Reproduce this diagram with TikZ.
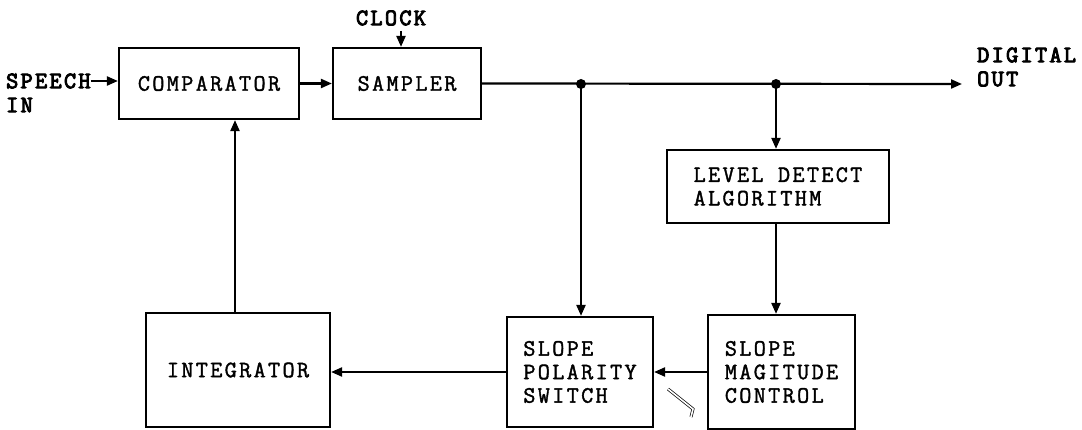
\documentclass[tikz,border=0pt]{standalone}
\usepackage{fontspec}
\newfontfamily\boxfont[FakeBold=1.6, LetterSpace=10]{Latin Modern Mono}
\newfontfamily\labfont[FakeBold=4, LetterSpace=10]{Latin Modern Mono}
\usetikzlibrary{arrows.meta}
\begin{document}
\begin{tikzpicture}[x=1pt,y=-1pt,
  blk/.style={draw, line width=2.2pt, inner sep=0pt, font=\boxfont\fontsize{23.5}{23.5}\selectfont, align=left},
  lbl/.style={font=\labfont\fontsize{23.5}{23}\selectfont, inner sep=0pt},
  wire/.style={line width=2.2pt},
  arr/.style={wire, -{Triangle[length=11pt,width=9pt]}},
  jdot/.style={circle, fill, inner sep=0pt, minimum size=10pt}]
\useasboundingbox (0,0) rectangle (1082,430);
% blocks
\node[blk, minimum width=180pt, minimum height=71pt] (comp) at (209,83.5) {COMPARATOR};
\node[blk, minimum width=148pt, minimum height=71pt] (samp) at (407,83.5) {SAMPLER};
\node[blk, minimum width=222pt, minimum height=73pt] (level) at (778,186.5) {LEVEL DETECT\\ALGORITHM};
\node[blk, minimum width=184pt, minimum height=114pt] (integ) at (238,370) {INTEGRATOR};
\node[blk, minimum width=146pt, minimum height=110pt] (pol) at (580,372) {SLOPE\\POLARITY\\SWITCH};
\node[blk, minimum width=147pt, minimum height=114pt] (mag) at (781.5,372) {SLOPE\\MAGITUDE\\CONTROL};
% labels
\node[lbl, anchor=west] (sp) at (6,81) {SPEECH};
\node[lbl, anchor=west] (spin) at (6,105) {IN};
\node[lbl] (clk) at (391,18) {CLOCK};
\node[lbl, anchor=west] (dig) at (977,55) {DIGITAL};
\node[lbl, anchor=west] (dout) at (977,79) {OUT};
% coordinates
\coordinate (ck) at (401,31);
\coordinate (j1) at (581,84);
\coordinate (j2) at (776,84);
\coordinate (tip) at (962,84);
% connectors
\draw[arr] (sp.east) -- (sp.east -| comp.west);
\draw[arr] (ck) -- (ck |- samp.north);
\draw[arr] (comp.east) -- (samp.west);
\draw[arr] (samp.east) -- (tip);
\node[jdot] at (j1) {};
\node[jdot] at (j2) {};
\draw[arr] (j1) -- (j1 |- pol.north);
\draw[arr] (j2) -- (j2 |- level.north);
\draw[arr] (j2 |- level.south) -- (j2 |- mag.north);
\draw[arr] (mag.west) -- (mag.west -| pol.east);
\draw[arr] (pol.west) -- (pol.west -| integ.east);
\draw[arr] ([xshift=-3pt]integ.north) -- ([xshift=-3pt]integ.north |- comp.south);
% scan mark
\draw[line width=0.7pt, double distance=1.6pt] (668,389) -- (693,409) -- (691,417);
\end{tikzpicture}
\end{document}
